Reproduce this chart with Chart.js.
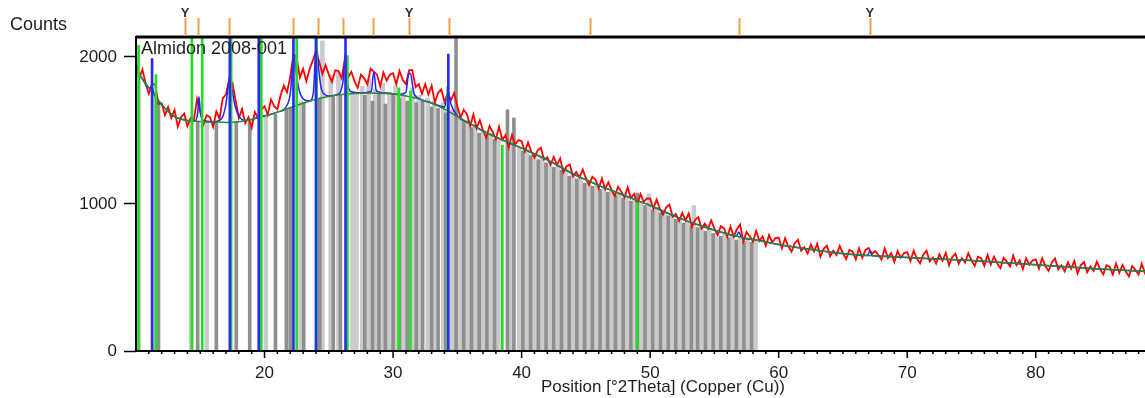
<!DOCTYPE html>
<html>
<head>
<meta charset="utf-8">
<title>Almidon 2008-001</title>
<script src="https://cdn.jsdelivr.net/npm/chart.js@4/dist/chart.umd.min.js"></script>
<style>
    html, body { margin: 0; padding: 0; background: #fff; overflow: hidden; }
    #wrap { width: 1145px; height: 398px; overflow: hidden; }
</style>
</head>
<body>
<div id="wrap"><canvas id="myChart" width="1190" height="398"></canvas></div>
<script>
const obsStart = 10;
const obsStep = 0.25;
const obsCounts = [
    1970, 1855, 1915, 1820, 1750, 1820, 1810, 1680, 1685, 1605,
    1660, 1585, 1640, 1525, 1590, 1615, 1530, 1585, 1570, 1715,
    1625, 1540, 1605, 1590, 1525, 1630, 1580, 1720, 1745, 1850,
    1825, 1705, 1585, 1645, 1550, 1590, 1520, 1625, 1585, 1640,
    1665, 1605, 1710, 1665, 1645, 1740, 1805, 1760, 1865, 2020,
    1995, 1860, 1920, 1835, 1915, 1975, 2040, 1970, 1885, 1945,
    1880, 1830, 1910, 1905, 1855, 1990, 1860, 1900, 1835, 1790,
    1880, 1855, 1815, 1920, 1900, 1880, 1800, 1895, 1840, 1880,
    1890, 1815, 1905, 1845, 1815, 1910, 1910, 1795, 1815, 1750,
    1815, 1745, 1805, 1690, 1755, 1780, 1695, 1755, 1705, 1755,
    1665, 1590, 1640, 1610, 1530, 1610, 1515, 1570, 1500, 1450,
    1530, 1490, 1440, 1525, 1435, 1470, 1385, 1470, 1405, 1435,
    1427, 1357, 1419, 1357, 1315, 1365, 1383, 1301, 1319, 1268,
    1321, 1265, 1310, 1213, 1257, 1268, 1188, 1218, 1180, 1234,
    1176, 1130, 1185, 1167, 1106, 1173, 1101, 1148, 1095, 1054,
    1118, 1085, 1045, 1113, 1040, 1068, 999, 1067, 1014, 1038,
    1037, 967, 1030, 968, 927, 977, 996, 914, 933, 885,
    940, 888, 935, 844, 892, 909, 833, 866, 831, 888,
    833, 791, 849, 834, 776, 847, 778, 828, 860, 742,
    810, 781, 745, 817, 749, 780, 716, 788, 740, 768,
    772, 699, 767, 712, 676, 733, 757, 682, 706, 663,
    724, 677, 730, 642, 695, 716, 645, 683, 653, 715,
    665, 626, 688, 678, 624, 699, 633, 688, 700, 660,
    680, 655, 622, 697, 632, 667, 605, 680, 635, 666,
    673, 612, 683, 629, 596, 655, 682, 609, 636, 595,
    658, 613, 668, 583, 639, 662, 593, 632, 602, 665,
    616, 579, 641, 632, 579, 653, 588, 642, 597, 563,
    634, 608, 575, 649, 584, 618, 557, 631, 586, 616,
    623, 561, 632, 578, 545, 603, 630, 556, 583, 542,
    604, 559, 613, 528, 583, 605, 536, 575, 545, 608,
    559, 521, 584, 574, 521, 596, 531, 585, 540, 507,
    578, 552, 519, 594, 529, 560, 515, 550, 525, 545,
    510, 552, 528, 540, 515, 548, 522, 536, 518
];

// fitted background
const bgPos = [10, 10.5, 11, 11.5, 12, 12.5, 13, 13.5, 14, 15, 16, 17, 18, 19, 20, 21, 22, 23, 24, 25,
    26, 27, 28, 29, 30, 31, 32, 33, 34, 35, 36, 37, 38, 39, 40, 41, 42, 43, 44, 45,
    46, 47, 48, 49, 50, 51, 52, 53, 54, 55, 56, 57, 58, 59, 60, 62, 64, 66, 68, 70,
    72, 74, 76, 78, 80, 82, 84, 86, 88.6, 92];
const bgCounts = [1910, 1850, 1790, 1730, 1675, 1630, 1595, 1578, 1568, 1562, 1558, 1555, 1560, 1575, 1598, 1625, 1655, 1685, 1712, 1732,
    1745, 1752, 1755, 1754, 1748, 1735, 1715, 1685, 1645, 1595, 1545, 1495, 1455, 1420, 1380, 1340, 1300, 1255, 1205, 1165,
    1127, 1092, 1058, 1024, 990, 952, 914, 880, 850, 822, 797, 776, 758, 741, 725, 697, 672, 655, 645, 636,
    627, 620, 610, 598, 586, 574, 563, 552, 540, 528];

// calculated profile
const calcPos = [10, 10.5, 11, 11.15, 11.25, 11.35, 11.5, 12, 12.5, 13, 13.5, 14, 14.6, 14.8, 14.9, 15.0, 15.2, 16, 16.6, 17.0,
    17.15, 17.3, 17.45, 17.7, 18.0, 18.5, 19, 19.5, 20, 21, 21.7, 22.0, 22.15, 22.3, 22.45, 22.7, 23.0, 23.5, 23.8, 23.95,
    24.05, 24.2, 24.4, 24.7, 25, 25.8, 26.1, 26.25, 26.4, 26.7, 27.5, 28.3, 28.5, 28.7, 29.5, 30.5, 31.0, 31.2, 31.35, 31.6,
    32, 33, 34.0, 34.3, 34.5, 35, 36, 38, 40, 42, 44, 46, 48, 50, 52, 54, 56, 56.7, 56.9, 57.1,
    58, 60, 62, 64, 66, 66.9, 67.1, 67.3, 68, 70, 75, 80, 85, 88.6, 92];
const calcCounts = [1910, 1850, 1790, 1790, 1800, 1765, 1735, 1675, 1630, 1595, 1578, 1568, 1566, 1620, 1730, 1630, 1570, 1560, 1575, 1680,
    1790, 1845, 1790, 1670, 1600, 1568, 1575, 1590, 1600, 1625, 1665, 1750, 1900, 2010, 1900, 1770, 1715, 1700, 1760, 2000,
    2080, 1930, 1790, 1745, 1735, 1750, 1830, 1960, 1840, 1765, 1755, 1765, 1900, 1770, 1755, 1745, 1760, 1880, 1890, 1760,
    1718, 1688, 1660, 1760, 1680, 1598, 1545, 1455, 1380, 1300, 1205, 1127, 1058, 990, 914, 850, 797, 781, 810, 776,
    758, 725, 697, 672, 655, 650, 680, 648, 645, 636, 615, 586, 558, 540, 528];

// reference sticks (blue / green phases)
const bluePos = [11.25, 17.3, 19.55, 22.25, 24.0, 26.3, 34.3];
const blueHeights = [1990, 2500, 2500, 2500, 2500, 2500, 2020];
const greenPos = [10.2, 11.55, 14.35, 15.15, 17.4, 19.75, 22.5, 24.05, 26.45, 30.45, 31.35, 34.25, 38.5, 49.0];
const greenHeights = [2080, 1880, 2500, 2500, 2500, 2500, 2500, 2500, 2010, 1790, 1770, 1800, 1400, 1010];

// gray reference sticks
const grayLightPos = [10.2, 11.45, 14.3, 15.5, 20.1, 22.8, 24.5, 25.15, 25.75, 26.85, 27.15, 27.6, 28.1, 28.6, 29.2, 29.7,
    30.2, 30.8, 31.5, 32.0, 32.7, 33.2, 33.9, 34.6, 35.2, 35.8, 36.4, 37.0, 37.6, 38.2, 39.2, 39.8,
    40.4, 41.0, 41.6, 42.2, 42.8, 43.4, 44.0, 44.6, 45.2, 45.8, 46.4, 47.0, 47.6, 48.2, 48.8, 49.3,
    49.9, 50.5, 51.1, 51.7, 52.3, 52.9, 53.4, 54.0, 54.6, 55.2, 55.8, 56.4, 57.0, 57.6, 58.2];
const grayLightHeights = [1840, 1750, 1565, 1560, 1600, 1700, 2110, 1880, 1900, 1750, 1750, 1800, 1850, 1780, 1820, 1760,
    1800, 1760, 1790, 1740, 1720, 1700, 1690, 1640, 1600, 1570, 1540, 1500, 1480, 1450, 1420, 1390,
    1370, 1340, 1320, 1290, 1260, 1240, 1200, 1180, 1160, 1130, 1110, 1090, 1070, 1050, 1030, 1010,
    1070, 975, 950, 930, 905, 880, 990, 850, 830, 815, 800, 790, 775, 760, 755];
const grayDarkPos = [11.75, 14.8, 16.25, 17.8, 18.85, 20.85, 21.7, 22.0, 23.05, 24.3, 25.35, 25.9, 27.8, 28.4, 28.9, 29.4,
    30.0, 30.5, 31.1, 31.8, 32.3, 33.0, 33.5, 34.1, 34.9, 35.5, 36.1, 36.7, 37.3, 37.9, 38.9, 39.4,
    40.1, 40.7, 41.3, 41.9, 42.5, 43.1, 43.7, 44.3, 44.9, 45.5, 46.1, 46.7, 47.3, 47.9, 48.5, 49.0,
    49.6, 50.2, 50.8, 51.4, 52.0, 52.6, 53.2, 53.7, 54.3, 54.9, 55.5, 56.1, 56.7, 57.3, 57.9];
const grayDarkHeights = [1700, 1560, 1555, 1560, 1560, 1610, 1640, 1650, 1690, 1720, 1730, 1745, 1740, 1700, 1750, 1680,
    1740, 1720, 1700, 1690, 1700, 1660, 1650, 1620, 2300, 1560, 1520, 1480, 1470, 1440, 1640, 1585,
    1360, 1330, 1300, 1280, 1250, 1230, 1190, 1170, 1140, 1120, 1100, 1080, 1060, 1040, 1020, 1075,
    990, 960, 940, 920, 895, 870, 850, 840, 815, 800, 780, 770, 755, 745, 740];

// peak list (top markers), the ones flagged with Y
const peakPos = [13.81, 14.85, 17.26, 22.24, 24.14, 26.13, 28.46, 31.24, 34.35, 45.32, 56.91, 67.10];
const flaggedPeaks = [13.81, 31.24, 67.10];

// axes
const xMin = 10;
const xMax = 92;
const xTickValues = [20, 30, 40, 50, 60, 70, 80, 90];
const yMax = 2136;
const yTickValues = [0, 1000, 2000];
const fontFamily = '"Liberation Sans", Arial, sans-serif';

function pairs(xs, ys) {
    const n = Math.min(xs.length, ys.length);
    const out = [];
    for (let i = 0; i < n; i++) out.push({ x: xs[i], y: ys[i] });
    return out;
}

const obsData = obsCounts.map((c, i) => ({ x: obsStart + i * obsStep, y: c }));

// frame, minor ticks, peak markers and labels
const decorPlugin = {
    id: 'decor',
    afterDraw(chart) {
        const { ctx, chartArea: a } = chart;
        const xs = chart.scales.x;
        ctx.save();

        ctx.strokeStyle = '#000';
        ctx.lineWidth = 2;
        ctx.strokeRect(a.left, a.top, a.right - a.left, a.bottom - a.top);
        ctx.lineWidth = 3;
        ctx.beginPath();
        ctx.moveTo(a.left, a.top);
        ctx.lineTo(a.right, a.top);
        ctx.stroke();

        ctx.lineWidth = 1.5;
        for (let v = xMin + 1; v < xMax; v++) {
            const px = xs.getPixelForValue(v);
            const len = v % 10 === 0 ? 7 : 3;
            ctx.beginPath();
            ctx.moveTo(px, a.bottom);
            ctx.lineTo(px, a.bottom + len);
            ctx.stroke();
        }

        ctx.strokeStyle = '#f5a142';
        ctx.lineWidth = 2;
        peakPos.forEach(v => {
            const px = Math.round(xs.getPixelForValue(v)) + 0.5;
            ctx.beginPath();
            ctx.moveTo(px, a.top - 19);
            ctx.lineTo(px, a.top - 1);
            ctx.stroke();
        });

        ctx.fillStyle = '#333';
        ctx.font = 'bold 13px ' + fontFamily;
        ctx.textAlign = 'center';
        ctx.textBaseline = 'middle';
        flaggedPeaks.forEach(v => {
            ctx.fillText('Y', xs.getPixelForValue(v), 13);
        });

        ctx.fillStyle = '#1e1e1e';
        ctx.font = '18px ' + fontFamily;
        ctx.textAlign = 'left';
        ctx.fillText('Counts', 10, 25);
        ctx.fillText('Almidon 2008-001', a.left + 5, a.top + 12);

        ctx.restore();
    }
};

function stickDataset(xs, ys, color, thickness, order) {
    return {
        type: 'bar',
        data: pairs(xs, ys),
        backgroundColor: color,
        borderWidth: 0,
        barThickness: thickness,
        grouped: false,
        order: order
    };
}

const canvasGrafico = document.getElementById('myChart');

const grafico = new Chart(canvasGrafico, {
    type: 'line',
    data: {
        datasets: [
            stickDataset(grayLightPos, grayLightHeights, '#cbcbcb', 4, 10),
            stickDataset(grayDarkPos, grayDarkHeights, '#8f8f8f', 3, 9),
            {
                type: 'line',
                data: obsData,
                borderColor: '#ff0000',
                borderWidth: 1.8,
                pointRadius: 0,
                tension: 0,
                order: 6
            },
            {
                type: 'line',
                data: pairs(calcPos, calcCounts),
                borderColor: '#2222ff',
                borderWidth: 1.5,
                pointRadius: 0,
                cubicInterpolationMode: 'monotone',
                order: 5
            },
            {
                type: 'line',
                data: pairs(bgPos, bgCounts),
                borderColor: '#2a8a2a',
                borderWidth: 1.5,
                pointRadius: 0,
                cubicInterpolationMode: 'monotone',
                order: 4
            },
            stickDataset(greenPos, greenHeights, '#22dd22', 2, 3),
            stickDataset(bluePos, blueHeights, '#2a2aff', 2, 2)
        ]
    },
    options: {
        responsive: false,
        animation: false,
        devicePixelRatio: 1,
        layout: {
            padding: { top: 37, left: 0, right: 0, bottom: 0 }
        },
        plugins: {
            legend: { display: false },
            tooltip: { enabled: false }
        },
        scales: {
            x: {
                type: 'linear',
                min: xMin,
                max: xMax,
                offset: false,
                afterFit: s => { s.height = 47; },
                afterBuildTicks: s => { s.ticks = xTickValues.map(v => ({ value: v })); },
                border: { display: false },
                grid: { display: false, drawTicks: false },
                ticks: {
                    padding: 12,
                    maxRotation: 0,
                    autoSkip: false,
                    color: '#1e1e1e',
                    font: { family: fontFamily, size: 17 },
                    callback: v => String(v)
                },
                title: {
                    display: true,
                    text: 'Position [°2Theta] (Copper (Cu))',
                    color: '#1e1e1e',
                    font: { family: fontFamily, size: 17 },
                    padding: { top: 0, bottom: 0 }
                }
            },
            y: {
                min: 0,
                max: yMax,
                afterFit: s => { s.width = 136; },
                afterBuildTicks: s => { s.ticks = yTickValues.map(v => ({ value: v })); },
                border: { display: false },
                grid: {
                    drawOnChartArea: false,
                    drawTicks: true,
                    tickLength: 12,
                    tickColor: '#000',
                    tickWidth: 1.5
                },
                ticks: {
                    padding: 7,
                    autoSkip: false,
                    color: '#1e1e1e',
                    font: { family: fontFamily, size: 17 },
                    callback: v => String(v)
                }
            }
        }
    },
    plugins: [decorPlugin]
});
</script>
</body>
</html>
